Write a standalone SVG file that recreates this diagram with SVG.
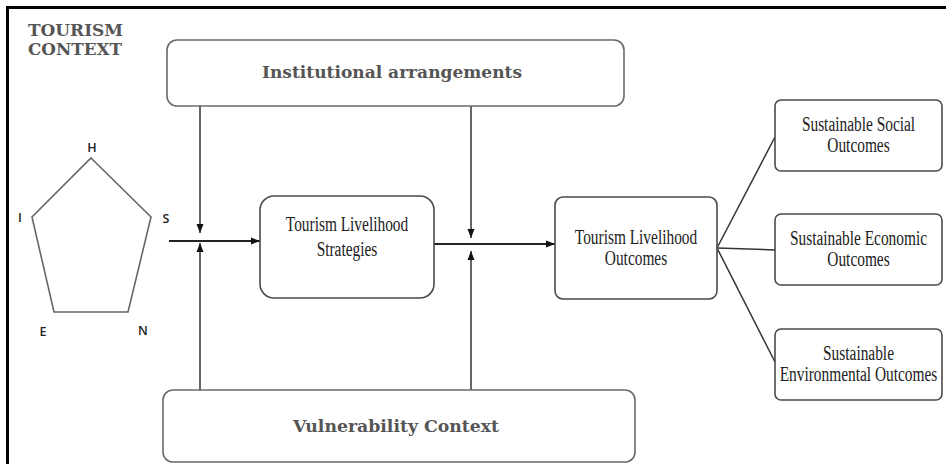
<svg xmlns="http://www.w3.org/2000/svg" width="946" height="464" viewBox="0 0 946 464">
<defs>
<style>
.frame{fill:none;stroke:#000;stroke-width:3}
.box{fill:#fff;stroke:#4a4a4a;stroke-width:1.6}
.gbox{fill:#fff;stroke:#6a6a6a;stroke-width:1.6}
.hd{font-family:"DejaVu Serif","Liberation Serif",serif;font-weight:bold;fill:#555}
.tx{font-family:"Liberation Serif","Times New Roman",serif;font-size:20px;fill:#222;text-anchor:middle}
.lb{font-family:"Open Sans","DejaVu Sans",sans-serif;font-weight:600;font-size:12.5px;fill:#222;text-anchor:middle}
.ln{fill:none;stroke:#333;stroke-width:1.5}
.ar{fill:none;stroke:#222;stroke-width:1.8}
.pent{fill:none;stroke:#666;stroke-width:1.6}
</style>
<marker id="ah" markerWidth="10" markerHeight="8" refX="9" refY="4" orient="auto" markerUnits="userSpaceOnUse">
<path d="M0,0.5 L9,4 L0,7.5 Z" fill="#111"/>
</marker>
</defs>
<rect width="946" height="464" fill="#fff"/>
<path class="frame" d="M7.5,470 V7.5 H950"/>
<g id="title">
<text class="hd" font-size="17.5" x="28" y="35.5" textLength="95" lengthAdjust="spacingAndGlyphs">TOURISM</text>
<text class="hd" font-size="17.5" x="28" y="55" textLength="94" lengthAdjust="spacingAndGlyphs">CONTEXT</text>
</g>

<g id="assets">
<polygon class="pent" points="91,158 151,217 128,312 54,312 32,217"/>
<text class="lb" x="92" y="152">H</text>
<text class="lb" x="20" y="222">I</text>
<text class="lb" x="166" y="223">S</text>
<text class="lb" x="43" y="336">E</text>
<text class="lb" x="143" y="335">N</text>
</g>

<g id="connectors">
<line class="ar" x1="169" y1="241" x2="260" y2="241" marker-end="url(#ah)"/>
<line class="ln" x1="200" y1="106" x2="200" y2="233" marker-end="url(#ah)"/>
<line class="ln" x1="200" y1="390" x2="200" y2="243" marker-end="url(#ah)"/>
<line class="ar" x1="434" y1="244" x2="555" y2="244" marker-end="url(#ah)"/>
<line class="ln" x1="471" y1="106" x2="471" y2="238" marker-end="url(#ah)"/>
<line class="ln" x1="471" y1="390" x2="471" y2="251" marker-end="url(#ah)"/>
<line class="ln" x1="717" y1="248" x2="775" y2="137"/>
<line class="ln" x1="717" y1="248" x2="775" y2="250"/>
<line class="ln" x1="717" y1="248" x2="775" y2="362"/>
</g>

<g id="institutional">
<rect class="gbox" x="167" y="40" width="457" height="66" rx="10"/>
<text class="hd" font-size="17" x="262" y="78" textLength="260" lengthAdjust="spacingAndGlyphs">Institutional arrangements</text>
</g>

<g id="vulnerability">
<rect class="gbox" x="163" y="390" width="472" height="72" rx="10"/>
<text class="hd" font-size="17" x="293" y="432" textLength="206" lengthAdjust="spacingAndGlyphs">Vulnerability Context</text>
</g>

<g id="strategies">
<rect class="box" x="260" y="196" width="174" height="102" rx="14"/>
<g transform="translate(347,0) scale(0.77,1)">
<text class="tx" x="0" y="231">Tourism Livelihood</text>
<text class="tx" x="0" y="256">Strategies</text>
</g>
</g>

<g id="outcomes">
<rect class="box" x="555" y="197" width="162" height="102" rx="8"/>
<g transform="translate(636,0) scale(0.77,1)">
<text class="tx" x="0" y="244">Tourism Livelihood</text>
<text class="tx" x="0" y="265">Outcomes</text>
</g>
</g>

<g id="social">
<rect class="box" x="775" y="100" width="167" height="71" rx="6"/>
<g transform="translate(858.5,0) scale(0.77,1)">
<text class="tx" x="0" y="131">Sustainable Social</text>
<text class="tx" x="0" y="152">Outcomes</text>
</g>
</g>

<g id="economic">
<rect class="box" x="775" y="214" width="167" height="71" rx="6"/>
<g transform="translate(858.5,0) scale(0.77,1)">
<text class="tx" x="0" y="245">Sustainable Economic</text>
<text class="tx" x="0" y="266">Outcomes</text>
</g>
</g>

<g id="environmental">
<rect class="box" x="775" y="329" width="167" height="71" rx="6"/>
<g transform="translate(858.5,0) scale(0.77,1)">
<text class="tx" x="0" y="360">Sustainable</text>
<text class="tx" x="0" y="381">Environmental Outcomes</text>
</g>
</g>
</svg>
